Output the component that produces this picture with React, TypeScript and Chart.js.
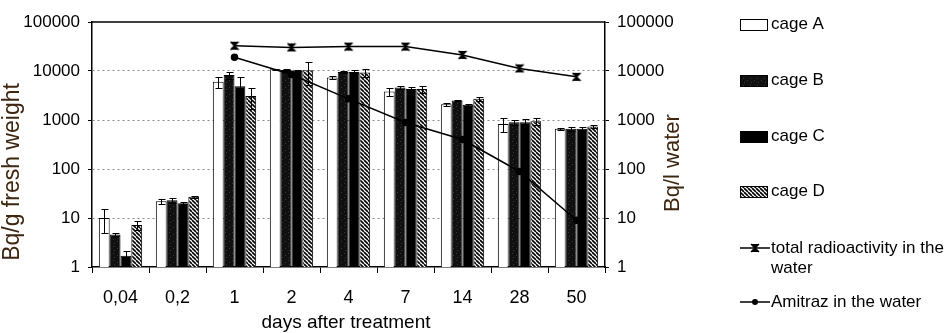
import React, { useEffect, useRef } from "react";
import { Chart, registerables } from "chart.js";

Chart.register(...registerables);

const categories = ["0,04", "0,2", "1", "2", "4", "7", "14", "28", "50"];
const cageA = [10, 22, 6000, 10800, 7400, 3800, 2100, 830, 660];
const cageB = [4.6, 23, 8300, 10500, 9500, 4600, 2500, 900, 660];
const cageC = [1.7, 20, 4900, 10200, 9500, 4300, 2050, 900, 660];
const cageD = [7.2, 27, 3100, 10300, 9300, 4300, 2700, 940, 740];
const errA = [5, 3, 1600, 400, 400, 700, 150, 250, 40];
const errB = [0.3, 3, 1400, 300, 300, 400, 100, 120, 60];
const errC = [0.4, 1, 2600, 300, 900, 400, 100, 130, 60];
const errD = [1.5, 1, 1400, 5000, 1700, 700, 200, 160, 40];
const totalWater = [null, null, 32800, 30300, 31500, 31500, 21300, 11300, 7600];
const amitrazWater = [null, null, 19000, 8500, 2700, 890, 400, 89, 9];
const yTicks = [1, 10, 100, 1000, 10000, 100000];

const seriesLabels = ["cage A", "cage B", "cage C", "cage D", "total radioactivity in the water", "Amitraz in the water"];
const legendLines = [["cage A"], ["cage B"], ["cage C"], ["cage D"], ["total radioactivity in the", "water"], ["Amitraz in the water"]];
const yTitleLeft = "Bq/g fresh weight";
const yTitleRight = "Bq/l water";
const xTitle = "days after treatment";

const FONT = '"Liberation Sans", Arial, sans-serif';
const TITLE_COLOR = "#3e2610";

function makeStipple(): CanvasPattern | string {
  const c = document.createElement("canvas");
  c.width = 7; c.height = 7;
  const g = c.getContext("2d");
  if (!g) return "#111";
  g.fillStyle = "#101010";
  g.fillRect(0, 0, 7, 7);
  g.fillStyle = "#363636";
  g.fillRect(1, 1, 1, 1);
  g.fillRect(5, 3, 1, 1);
  g.fillRect(2, 5, 1, 1);
  return g.createPattern(c, "repeat") || "#111";
}

function makeHatch(): CanvasPattern | string {
  const c = document.createElement("canvas");
  c.width = 4; c.height = 4;
  const g = c.getContext("2d");
  if (!g) return "#777";
  g.fillStyle = "#fff";
  g.fillRect(0, 0, 4, 4);
  g.strokeStyle = "#000";
  g.lineWidth = 1.6;
  for (const k of [-4, 0, 4]) {
    g.beginPath();
    g.moveTo(k, 0);
    g.lineTo(k + 4, 4);
    g.stroke();
  }
  return g.createPattern(c, "repeat") || "#777";
}

function makeHourglass(): HTMLCanvasElement {
  const c = document.createElement("canvas");
  c.width = 10; c.height = 10;
  const g = c.getContext("2d");
  if (g) {
    g.fillStyle = "#000";
    g.strokeStyle = "#000";
    g.lineWidth = 1.5;
    g.beginPath(); g.moveTo(1, 1); g.lineTo(9, 1); g.lineTo(5, 5); g.closePath(); g.fill();
    g.beginPath(); g.moveTo(1, 9); g.lineTo(9, 9); g.lineTo(5, 5); g.closePath(); g.fill();
    g.beginPath(); g.moveTo(1, 1); g.lineTo(9, 9); g.moveTo(9, 1); g.lineTo(1, 9); g.stroke();
  }
  return c;
}

const errorBarPlugin = {
  id: "errorBars",
  afterDatasetDraw(chart: any, args: any) {
    const ds = chart.data.datasets[args.index];
    if (!ds.errors) return;
    const yScale = chart.scales[args.meta.yAxisID];
    const ctx = chart.ctx;
    ctx.save();
    ctx.strokeStyle = "#000";
    ctx.lineWidth = 1;
    args.meta.data.forEach((el: any, i: number) => {
      const v = ds.data[i];
      const e = ds.errors[i];
      if (v == null || !e) return;
      const x = Math.round(el.x) + 0.5;
      const yTop = Math.round(yScale.getPixelForValue(v + e)) + 0.5;
      const yBot = Math.round(yScale.getPixelForValue(Math.max(v - e, 1))) + 0.5;
      ctx.beginPath();
      ctx.moveTo(x, yTop); ctx.lineTo(x, yBot);
      ctx.moveTo(x - 3, yTop); ctx.lineTo(x + 4, yTop);
      ctx.moveTo(x - 3, yBot); ctx.lineTo(x + 4, yBot);
      ctx.stroke();
    });
    ctx.restore();
  },
};

const decorPlugin = {
  id: "decor",
  afterDraw(chart: any) {
    const ctx = chart.ctx;
    const area = chart.chartArea;
    const ds = chart.data.datasets;
    ctx.save();
    // top frame
    ctx.strokeStyle = "#000";
    ctx.lineWidth = 1.5;
    ctx.beginPath();
    ctx.moveTo(area.left, area.top);
    ctx.lineTo(area.right, area.top);
    ctx.stroke();

    // axis titles
    ctx.fillStyle = TITLE_COLOR;
    ctx.textAlign = "center";
    ctx.textBaseline = "middle";
    ctx.font = `23px ${FONT}`;
    ctx.save();
    ctx.translate(13, 172);
    ctx.rotate(-Math.PI / 2);
    ctx.fillText(yTitleLeft, 0, 0);
    ctx.restore();
    ctx.font = `22px ${FONT}`;
    ctx.save();
    ctx.translate(673, 163);
    ctx.rotate(-Math.PI / 2);
    ctx.fillText(yTitleRight, 0, 0);
    ctx.restore();
    ctx.fillStyle = "#000";
    ctx.font = `19px ${FONT}`;
    ctx.textBaseline = "alphabetic";
    ctx.fillText(xTitle, 346, 328);

    // legend
    ctx.font = `17px ${FONT}`;
    ctx.textAlign = "left";
    ctx.textBaseline = "middle";
    const boxX = 740;
    const textX = 771;
    const rows = [24, 80, 136, 191];
    for (let i = 0; i < 4; i++) {
      const y = rows[i];
      ctx.fillStyle = ds[i].backgroundColor;
      ctx.fillRect(boxX, Math.round(y - 5), 27, 11);
      ctx.strokeStyle = "#000";
      ctx.lineWidth = 1;
      ctx.strokeRect(boxX + 0.5, Math.round(y - 5) + 0.5, 27, 11);
      ctx.fillStyle = "#000";
      ctx.fillText(legendLines[i][0], textX, y);
    }
    const lineRows = [[248, 268], [302]];
    for (let j = 0; j < 2; j++) {
      const d = ds[4 + j];
      const y = lineRows[j][0];
      ctx.strokeStyle = "#000";
      ctx.lineWidth = 1.5;
      ctx.beginPath();
      ctx.moveTo(boxX, y);
      ctx.lineTo(boxX + 30, y);
      ctx.stroke();
      const cx = boxX + 15;
      if (d.pointStyle instanceof HTMLCanvasElement) {
        ctx.drawImage(d.pointStyle, cx - 5, y - 5);
      } else {
        ctx.fillStyle = "#000";
        ctx.beginPath();
        ctx.arc(cx, y, 3, 0, Math.PI * 2);
        ctx.fill();
      }
      ctx.fillStyle = "#000";
      legendLines[4 + j].forEach((t, k) => {
        ctx.fillText(t, textX, lineRows[j][k]);
      });
    }
    ctx.restore();
  },
};

export default function App() {
  const canvasRef = useRef<HTMLCanvasElement | null>(null);

  useEffect(() => {
    const canvas = canvasRef.current;
    if (!canvas) return;
    Chart.defaults.font.family = FONT;
    const stipple = makeStipple();
    const hatch = makeHatch();
    const hourglass = makeHourglass();

    const barCommon = {
      borderColor: "#000",
      borderWidth: 1,
      yAxisID: "y",
      order: 1,
      categoryPercentage: 0.76,
      barPercentage: 1.0,
    };

    const chart = new Chart(canvas, {
      type: "bar",
      data: {
        labels: categories,
        datasets: [
          { ...barCommon, label: seriesLabels[0], data: cageA, backgroundColor: "#ffffff", errors: errA } as any,
          { ...barCommon, label: seriesLabels[1], data: cageB, backgroundColor: stipple, errors: errB } as any,
          { ...barCommon, label: seriesLabels[2], data: cageC, backgroundColor: "#000000", errors: errC } as any,
          { ...barCommon, label: seriesLabels[3], data: cageD, backgroundColor: hatch, errors: errD } as any,
          {
            type: "line",
            label: seriesLabels[4],
            data: totalWater,
            yAxisID: "y1",
            order: 0,
            borderColor: "#000",
            backgroundColor: "#000",
            borderWidth: 1.5,
            pointStyle: hourglass,
            pointRadius: 5,
            tension: 0,
          } as any,
          {
            type: "line",
            label: seriesLabels[5],
            data: amitrazWater,
            yAxisID: "y1",
            order: 0,
            borderColor: "#000",
            backgroundColor: "#000",
            borderWidth: 1.5,
            pointStyle: "circle",
            pointRadius: 3,
            tension: 0,
          } as any,
        ],
      },
      options: {
        animation: false,
        responsive: false,
        maintainAspectRatio: false,
        layout: { padding: { top: 22, left: 0, right: 0, bottom: 0 } },
        plugins: {
          legend: { display: false },
          tooltip: { enabled: false },
          title: { display: false },
        },
        scales: {
          x: {
            grid: {
              display: true,
              drawOnChartArea: false,
              offset: true,
              tickLength: 6,
              color: "#000",
            },
            border: { color: "#000", width: 1.5 },
            ticks: { font: { size: 18, family: FONT }, color: "#000", padding: 14, maxRotation: 0 },
            afterFit: (s: any) => { s.height = 66; },
          },
          y: {
            type: "logarithmic",
            position: "left",
            min: 1,
            max: 100000,
            afterBuildTicks: (s: any) => { s.ticks = yTicks.map((v) => ({ value: v })); },
            ticks: {
              callback: (v: any) => String(v),
              font: { size: 17, family: FONT },
              color: "#000",
              padding: 8,
            },
            grid: {
              drawOnChartArea: true,
              tickLength: 4,
              color: (ctx: any) => {
                const v = ctx.tick && ctx.tick.value;
                return v === 1 || v === 100000 ? "rgba(0,0,0,0)" : "#8a8a8a";
              },
              tickColor: "#000",
              lineWidth: 1,
            },
            border: { color: "#000", width: 1.5, dash: [2, 3] },
            afterFit: (s: any) => { s.width = 92; },
          },
          y1: {
            type: "logarithmic",
            position: "right",
            min: 1,
            max: 100000,
            afterBuildTicks: (s: any) => { s.ticks = yTicks.map((v) => ({ value: v })); },
            ticks: {
              callback: (v: any) => String(v),
              font: { size: 17, family: FONT },
              color: "#000",
              padding: 8,
            },
            grid: { drawOnChartArea: false, tickLength: 4, color: "#000", tickColor: "#000" },
            border: { color: "#000", width: 1.5 },
            afterFit: (s: any) => { s.width = 344; },
          },
        },
      } as any,
      plugins: [errorBarPlugin, decorPlugin],
    });
    return () => chart.destroy();
  }, []);

  return (
    <div style={{ position: "absolute", left: 0, top: 0, width: 949, height: 333, background: "#fff" }}>
      <canvas ref={canvasRef} width={949} height={333} style={{ display: "block" }} />
    </div>
  );
}
